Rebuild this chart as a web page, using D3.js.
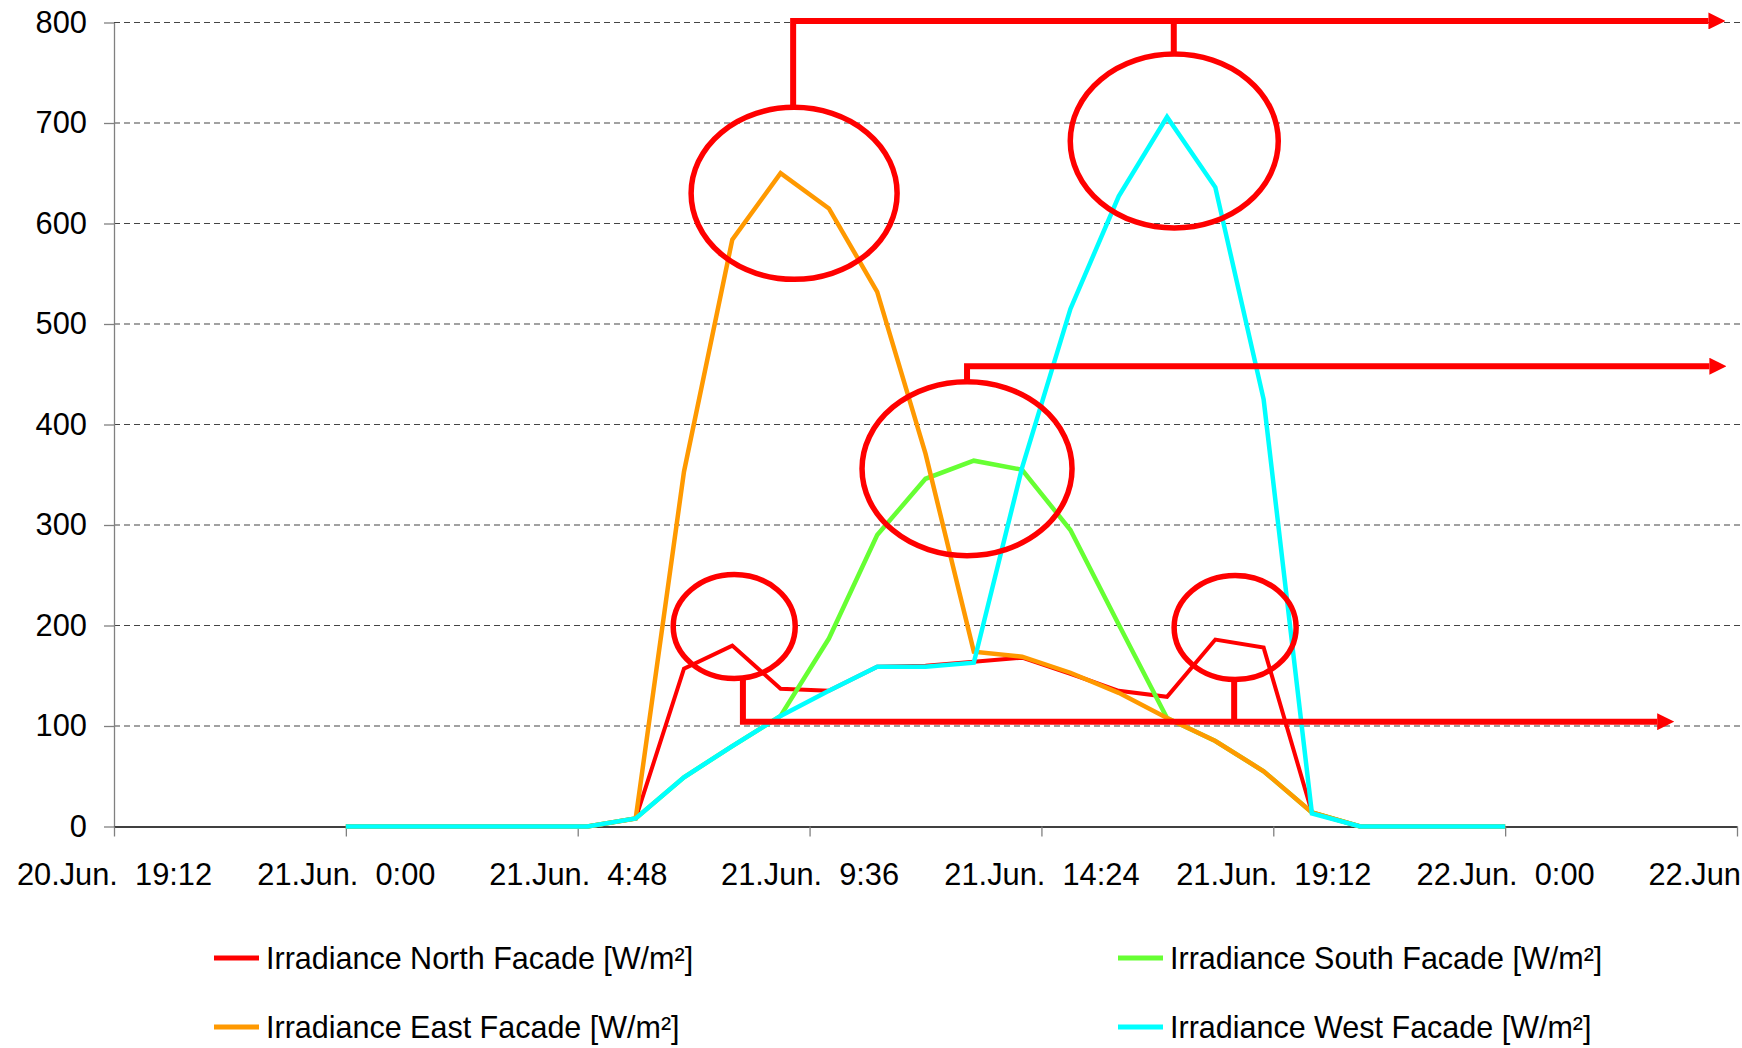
<!DOCTYPE html>
<html>
<head>
<meta charset="utf-8">
<script src="https://cdn.jsdelivr.net/npm/d3@7"></script>
<style>
  body { margin: 0; background: #fff; }
  svg { display: block; font-family: "Liberation Sans", Arial, sans-serif; }
  .axis text { font-size: 30.8px; fill: #000; white-space: pre; }
  .legend text { font-size: 30.5px; fill: #000; }
</style>
</head>
<body>
<div id="chart"></div>
<script>
// hours after 21.Jun 0:00, one reading per hour
const hours = [0, 1, 2, 3, 4, 5, 6, 7, 8, 9, 10, 11, 12, 13, 14, 15, 16, 17, 18, 19, 20, 21, 22, 23, 24];

const north = [0, 0, 0, 0, 0, 0, 8, 157, 180, 137, 135, 159, 160, 164, 168, 152, 135, 129, 186, 178, 14, 0, 0, 0, 0];
const south = [0, 0, 0, 0, 0, 0, 8, 49, 80, 110, 187, 290, 346, 364, 355, 295, 201, 108, 85, 55, 14, 0, 0, 0, 0];
const east  = [0, 0, 0, 0, 0, 0, 8, 353, 584, 650, 615, 532, 371, 174, 169, 153, 133, 108, 85, 55, 14, 0, 0, 0, 0];
const west  = [0, 0, 0, 0, 0, 0, 8, 49, 80, 110, 135, 159, 159, 163, 357, 515, 627, 706, 636, 425, 13, 0, 0, 0, 0];

const seriesNames = ["Irradiance North Facade [W/m²]", "Irradiance South Facade [W/m²]",
                     "Irradiance East Facade [W/m²]", "Irradiance West Facade [W/m²]"];
const seriesColors = ["#ff0000", "#66ff33", "#ff9900", "#00ffff"];

const yTicks = [0, 100, 200, 300, 400, 500, 600, 700, 800];
// x ticks every 4.8 h, counted from 20.Jun 19:12
const xTickHours = [-4.8, 0, 4.8, 9.6, 14.4, 19.2, 24, 28.8];

// red markings drawn over the chart (hour, value)
const circles = [
  { h: 9.28, v: 630, rx: 103, ry: 86 },
  { h: 17.15, v: 682, rx: 104, ry: 87 },
  { h: 12.86, v: 356, rx: 105, ry: 87 },
  { h: 8.04, v: 199, rx: 61, ry: 52 },
  { h: 18.41, v: 198, rx: 61, ry: 52 }
];
const callouts = [
  { from: [[9.26, 715], [9.26, 801.5], [28.56, 801.5]], arrow: true },
  { from: [[17.14, 768], [17.14, 801.5]], arrow: false },
  { from: [[12.86, 442], [12.86, 458], [28.58, 458]], arrow: true },
  { from: [[8.22, 147], [8.22, 104.3], [27.5, 104.3]], arrow: true },
  { from: [[18.39, 146], [18.39, 104.3]], arrow: false }
];

const W = 1742, H = 1048;
const margins = { top: 22.5, left: 114, right: 1737, bottom: 826.5 };

const t0 = Date.UTC(2011, 5, 21, 0, 0);
const toDate = h => new Date(t0 + h * 3600e3);

const x_scale = d3.scaleUtc()
  .domain([toDate(-4.8), toDate(28.8)])
  .range([margins.left, margins.right]);
const y_scale = d3.scaleLinear().domain([0, 800]).range([margins.bottom, margins.top]);

const svg = d3.select("#chart").append("svg")
  .attr("width", W).attr("height", H);

// grid
svg.append("g")
  .selectAll("line")
  .data(yTicks.filter(d => d > 0))
  .join("line")
  .attr("x1", margins.left).attr("x2", W)
  .attr("y1", d => y_scale(d)).attr("y2", d => y_scale(d))
  .attr("stroke", "#444").attr("stroke-width", 1.2)
  .attr("stroke-dasharray", "6,4");

const fmt = d3.utcFormat("%-d.%b.  %-H:%M");
const x_axis = d3.axisBottom(x_scale)
  .tickValues(xTickHours.map(toDate))
  .tickFormat(fmt)
  .tickSize(10).tickPadding(27).tickSizeOuter(0);
const y_axis = d3.axisLeft(y_scale)
  .tickValues(yTicks)
  .tickSize(10).tickPadding(17).tickSizeOuter(0);

const gy = svg.append("g").attr("class", "y axis")
  .attr("transform", `translate(${margins.left},0)`)
  .call(y_axis);
gy.select(".domain").attr("stroke", "#808080").attr("stroke-width", 1.3);
gy.selectAll(".tick line").attr("stroke", "#808080").attr("stroke-width", 1.3);

const gx = svg.append("g").attr("class", "x axis")
  .attr("transform", `translate(0,${margins.bottom})`)
  .call(x_axis);
gx.select(".domain").attr("stroke", "#000").attr("stroke-width", 1.3);
gx.selectAll(".tick line").attr("stroke", "#808080").attr("stroke-width", 1.3);
svg.selectAll(".axis text").attr("font-family", null);

// series
const line = d3.line()
  .x((d, i) => x_scale(toDate(hours[i])))
  .y(d => y_scale(d));

[north, south, east, west].forEach((vals, i) => {
  svg.append("path")
    .datum(vals)
    .attr("fill", "none")
    .attr("stroke", seriesColors[i])
    .attr("stroke-width", i === 0 ? 4 : 4.5)
    .attr("stroke-linejoin", "miter")
    .attr("d", line);
});

// red markings
const defs = svg.append("defs");
defs.append("marker")
  .attr("id", "head")
  .attr("markerUnits", "userSpaceOnUse")
  .attr("viewBox", "0 0 17 17")
  .attr("markerWidth", 17).attr("markerHeight", 17)
  .attr("refX", 0).attr("refY", 8.5)
  .attr("orient", "auto")
  .append("path").attr("d", "M0,0L17,8.5L0,17Z").attr("fill", "#ff0000");

const plainLine = d3.line().x(p => x_scale(toDate(p[0]))).y(p => y_scale(p[1]));
const arrowLine = d3.line()
  .x((p, i, arr) => {
    const px = x_scale(toDate(p[0]));
    return i === arr.length - 1 ? px - 17 : px;
  })
  .y(p => y_scale(p[1]));

callouts.forEach(c => {
  svg.append("path")
    .attr("d", (c.arrow ? arrowLine : plainLine)(c.from))
    .attr("fill", "none")
    .attr("stroke", "#ff0000")
    .attr("stroke-width", 6)
    .attr("stroke-linejoin", "miter")
    .attr("marker-end", c.arrow ? "url(#head)" : null);
});

svg.append("g")
  .selectAll("ellipse")
  .data(circles)
  .join("ellipse")
  .attr("cx", d => x_scale(toDate(d.h)))
  .attr("cy", d => y_scale(d.v))
  .attr("rx", d => d.rx).attr("ry", d => d.ry)
  .attr("fill", "none")
  .attr("stroke", "#ff0000")
  .attr("stroke-width", 5.5);

// legend
const legendPos = [[214, 958], [1118, 958], [214, 1027], [1118, 1027]];
const legend = svg.append("g").attr("class", "legend")
  .selectAll("g")
  .data(seriesNames)
  .join("g")
  .attr("transform", (d, i) => `translate(${legendPos[i][0]},${legendPos[i][1]})`);
legend.append("line")
  .attr("x1", 0).attr("x2", 45).attr("y1", 0).attr("y2", 0)
  .attr("stroke", (d, i) => seriesColors[i])
  .attr("stroke-width", 5);
legend.append("text")
  .attr("x", 52).attr("y", 10.5)
  .text(d => d);
</script>
</body>
</html>
